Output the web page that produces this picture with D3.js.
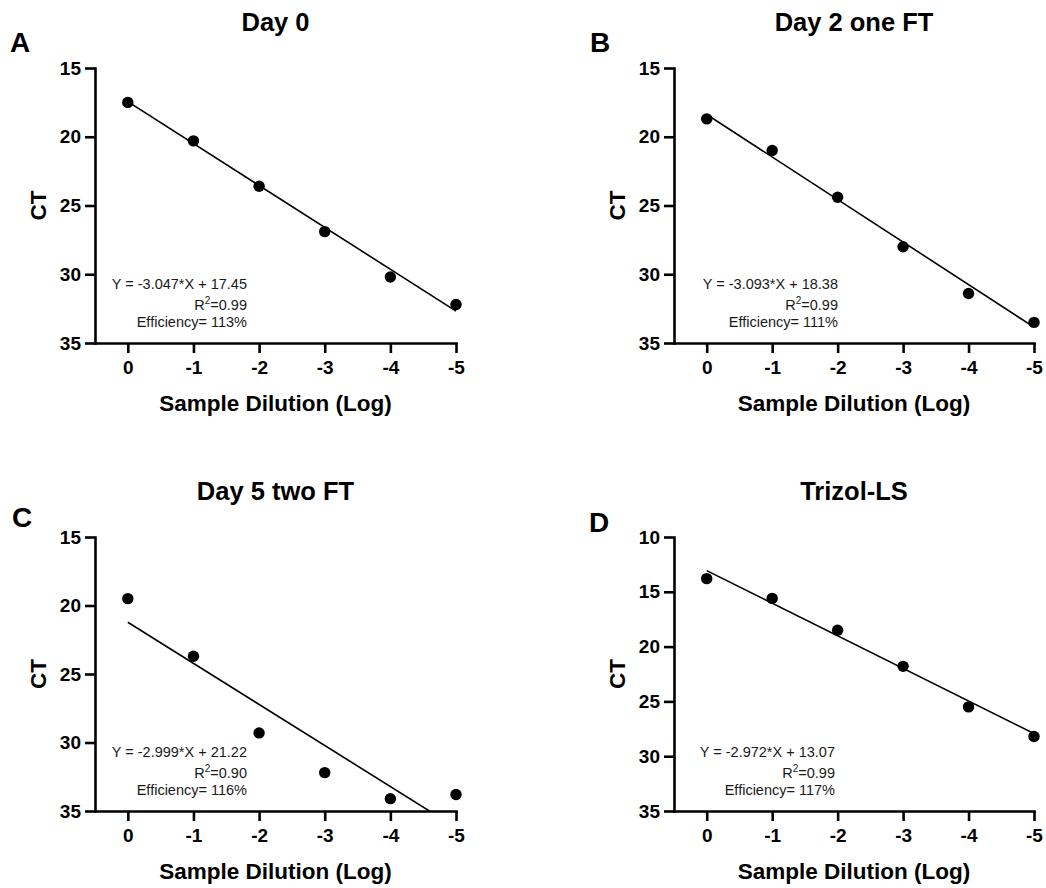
<!DOCTYPE html>
<html>
<head>
<meta charset="utf-8">
<script src="https://cdn.jsdelivr.net/npm/d3@7"></script>
<style>
  html, body { margin: 0; padding: 0; background: #fff; }
  svg { display: block; }
  text { font-family: "Liberation Sans", Arial, sans-serif; }
</style>
</head>
<body>
<svg id="chart" width="1046" height="888"></svg>
<script>
// ---------------- data ----------------
const dilution = [0, -1, -2, -3, -4, -5];
const xTicks = [0, -1, -2, -3, -4, -5];
const ctDay0   = [17.5, 20.3, 23.6, 26.9, 30.2, 32.2];
const ctDay2   = [18.7, 21.0, 24.4, 28.0, 31.4, 33.5];
const ctDay5   = [19.5, 23.7, 29.3, 32.2, 34.1, 33.8];
const ctTrizol = [13.8, 15.6, 18.5, 21.8, 25.5, 28.2];
const titles = ["Day 0", "Day 2 one FT", "Day 5 two FT", "Trizol-LS"];
const letters = ["A", "B", "C", "D"];
const slopes = [-3.047, -3.093, -2.999, -2.972];
const intercepts = [17.45, 18.38, 21.22, 13.07];
const slopeLabels = ["-3.047", "-3.093", "-2.999", "-2.972"];
const interceptLabels = ["17.45", "18.38", "21.22", "13.07"];
const r2Labels = ["0.99", "0.99", "0.90", "0.99"];
const efficiencyLabels = ["113%", "111%", "116%", "117%"];
const yTicksStd = [15, 20, 25, 30, 35];
const yTicksTrizol = [10, 15, 20, 25, 30, 35];
const yDomainStd = [15, 35];
const yDomainTrizol = [10, 35];
const xDomain = [0.5, -5];
const xLabel = "Sample Dilution (Log)";
const yLabel = "CT";

const series = [ctDay0, ctDay2, ctDay5, ctTrizol];
const yDomains = [yDomainStd, yDomainStd, yDomainStd, yDomainTrizol];
const yTickSets = [yTicksStd, yTicksStd, yTicksStd, yTicksTrizol];

// ---------------- layout ----------------
const layout = [
  { left: 95,  right: 456,  top: 68,  bottom: 343, letterX: 10,  letterY: 52,  annoX: 247 },
  { left: 674, right: 1034, top: 68,  bottom: 343, letterX: 590, letterY: 52,  annoX: 838 },
  { left: 95,  right: 456,  top: 537, bottom: 811, letterX: 12,  letterY: 527, annoX: 247 },
  { left: 674, right: 1034, top: 537, bottom: 811, letterX: 589, letterY: 532, annoX: 835 }
];

const svg = d3.select("#chart");
const defs = svg.append("defs");

layout.forEach((L, i) => {
  const g = svg.append("g");
  const x = d3.scaleLinear().domain(xDomain).range([L.left, L.right]);
  const y = d3.scaleLinear().domain(yDomains[i]).range([L.top, L.bottom]);

  // clip
  defs.append("clipPath").attr("id", "clip" + i)
    .append("rect")
    .attr("x", L.left).attr("y", L.top - 20)
    .attr("width", L.right - L.left + 20).attr("height", L.bottom - L.top + 20);

  // panel letter
  g.append("text")
    .attr("x", L.letterX).attr("y", L.letterY)
    .attr("font-size", 28).attr("font-weight", "bold").attr("fill", "#000")
    .text(letters[i]);

  // title
  g.append("text")
    .attr("x", (L.left + L.right) / 2).attr("y", L.top - 37)
    .attr("text-anchor", "middle")
    .attr("font-size", 25.5).attr("font-weight", "bold").attr("fill", "#000")
    .text(titles[i]);

  // y axis
  const yAxis = d3.axisLeft(y).tickValues(yTickSets[i]).tickSize(10).tickSizeOuter(0).tickPadding(4)
    .tickFormat(d3.format("d"));
  const gy = g.append("g").attr("transform", `translate(${L.left},0)`).call(yAxis);
  // x axis
  const xAxis = d3.axisBottom(x).tickValues(xTicks).tickSize(10).tickSizeOuter(0).tickPadding(8)
    .tickFormat(d => d === 0 ? "0" : "-" + Math.abs(d));
  const gx = g.append("g").attr("transform", `translate(0,${L.bottom})`).call(xAxis);

  [gy, gx].forEach(a => {
    a.select(".domain").attr("stroke", "#000").attr("stroke-width", 2.6).attr("stroke-linecap", "square");
    a.selectAll(".tick line").attr("stroke", "#000").attr("stroke-width", 2.6);
    a.selectAll(".tick text")
      .attr("font-family", "'Liberation Sans', Arial, sans-serif")
      .attr("font-size", 19).attr("font-weight", "bold").attr("fill", "#000");
  });

  // axis labels
  g.append("text")
    .attr("x", (L.left + L.right) / 2).attr("y", L.bottom + 68)
    .attr("text-anchor", "middle")
    .attr("font-size", 22.5).attr("font-weight", "bold").attr("fill", "#000")
    .text(xLabel);
  g.append("text")
    .attr("transform", `translate(${L.left - 49},${(L.top + L.bottom) / 2}) rotate(-90)`)
    .attr("text-anchor", "middle")
    .attr("font-size", 22.5).attr("font-weight", "bold").attr("fill", "#000")
    .text(yLabel);

  // fit line
  const fit = dilution.filter((d, k) => k === 0 || k === dilution.length - 1)
    .map(d => [d, slopes[i] * d + intercepts[i]]);
  g.append("path")
    .attr("clip-path", `url(#clip${i})`)
    .attr("d", d3.line().x(d => x(d[0])).y(d => y(d[1]))(fit))
    .attr("fill", "none").attr("stroke", "#000").attr("stroke-width", 1.6);

  // points
  g.selectAll("circle.pt")
    .data(dilution.map((d, k) => [d, series[i][k]]))
    .join("circle")
    .attr("class", "pt")
    .attr("cx", d => x(d[0])).attr("cy", d => y(d[1]))
    .attr("r", 5.7).attr("fill", "#000");

  // annotation
  const anno = g.append("g").attr("fill", "#1a1a1a").attr("font-size", 14.5);
  anno.append("text")
    .attr("x", L.annoX).attr("y", L.bottom - 54).attr("text-anchor", "end")
    .text(`Y = ${slopeLabels[i]}*X + ${interceptLabels[i]}`);
  const r2 = anno.append("text")
    .attr("x", L.annoX).attr("y", L.bottom - 33).attr("text-anchor", "end");
  r2.append("tspan").text("R");
  r2.append("tspan").attr("font-size", 10).attr("dy", -6).text("2");
  r2.append("tspan").attr("dy", 6).text("=" + r2Labels[i]);
  anno.append("text")
    .attr("x", L.annoX).attr("y", L.bottom - 16).attr("text-anchor", "end")
    .text("Efficiency= " + efficiencyLabels[i]);
});
</script>
</body>
</html>
